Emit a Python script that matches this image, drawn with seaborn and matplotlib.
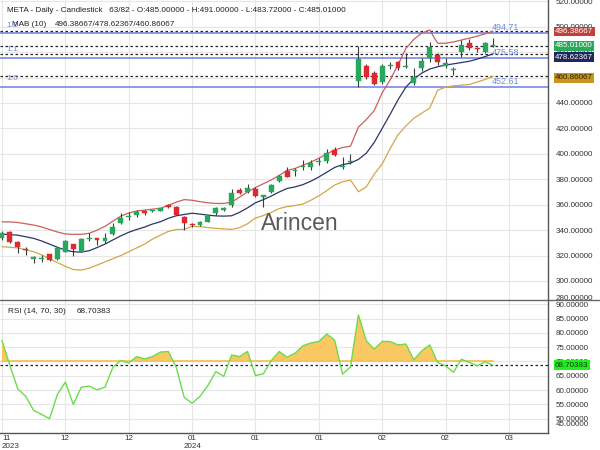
import numpy as np
import pandas as pd
import matplotlib
matplotlib.use('Agg')
import matplotlib.pyplot as plt
import seaborn as sns
from matplotlib.lines import Line2D
import matplotlib.transforms as mtransforms

# ---------------- data ----------------
opens = [333.5, 338.8, 330.9, 324.8, 317.0, 317.5, 321.0, 317.0, 323.0, 328.8,
         323.0, 333.2, 333.0, 331.5, 336.7, 345.3, 350.3, 352.0, 355.0, 355.0,
         355.3, 359.8, 358.4, 350.6, 344.2, 344.0, 346.7, 353.7, 356.2, 359.8,
         371.6, 369.7, 372.4, 365.8, 370.3, 378.5, 386.7, 386.2, 389.8, 390.0,
         393.6, 394.6, 403.2, 389.6, 393.5, 457.0, 469.1, 463.9, 456.8, 469.2,
         472.5, 468.5, 456.0, 467.3, 475.1, 477.7, 469.4, 465.8, 480.4, 487.5,
         482.8, 480.4, 485.0]
highs = [339.0, 339.5, 331.7, 326.5, 319.5, 320.4, 321.5, 326.5, 332.5, 329.2,
         333.5, 337.5, 333.5, 337.5, 345.3, 353.2, 354.5, 355.5, 356.0, 356.0,
         357.8, 360.3, 359.0, 351.0, 345.5, 347.2, 351.5, 358.5, 358.5, 372.0,
         373.0, 376.0, 374.2, 368.0, 376.0, 383.5, 389.5, 388.5, 395.2, 395.2,
         396.5, 403.5, 405.5, 397.3, 399.6, 484.8, 471.0, 465.0, 470.5, 472.0,
         473.2, 479.0, 467.3, 475.0, 488.2, 479.0, 475.2, 468.6, 489.5, 490.0,
         484.3, 488.0, 491.0]
lows = [332.0, 329.5, 321.7, 320.5, 313.9, 315.2, 316.0, 316.5, 322.5, 319.6,
        322.5, 331.4, 328.3, 330.0, 336.0, 344.8, 348.0, 350.5, 352.0, 354.0,
        354.8, 357.4, 352.0, 340.1, 342.8, 343.5, 346.2, 352.0, 355.0, 358.5,
        368.5, 369.0, 366.0, 358.5, 369.5, 377.5, 381.8, 382.5, 387.3, 387.3,
        391.2, 392.5, 398.5, 387.8, 392.0, 452.8, 458.5, 454.0, 455.0, 467.0,
        466.2, 467.3, 454.2, 465.5, 472.5, 470.0, 467.3, 462.0, 476.5, 481.7,
        480.4, 479.5, 483.72]
closes = [338.0, 331.0, 327.0, 324.0, 319.0, 318.0, 316.5, 325.7, 331.7, 324.9,
          333.0, 333.8, 332.6, 333.6, 342.7, 349.3, 350.6, 354.0, 353.2, 355.3,
          357.2, 357.9, 352.2, 345.9, 344.0, 346.7, 351.1, 357.2, 356.6, 369.5,
          369.5, 373.4, 366.9, 367.6, 375.3, 382.8, 382.0, 386.6, 390.2, 393.0,
          394.0, 400.4, 399.4, 390.2, 394.0, 474.3, 460.2, 455.0, 469.1, 469.6,
          467.3, 468.8, 460.2, 473.0, 484.3, 472.5, 471.7, 466.2, 485.6, 483.0,
          482.2, 486.9, 485.01]

upper_band = [346.5, 346.5, 346.0, 345.0, 344.0, 342.5, 340.5, 338.5, 337.0, 336.7,
              336.7, 337.5, 340.0, 343.0, 347.0, 351.0, 353.5, 355.0, 355.8, 356.5,
              357.2, 359.5, 362.0, 364.0, 363.5, 362.4, 361.5, 361.0, 361.0, 362.0,
              366.0, 370.0, 373.5, 376.5, 379.5, 383.0, 387.0, 388.5, 391.0, 393.5,
              396.5, 400.0, 403.0, 405.0, 406.0, 421.0, 427.0, 434.0, 448.0, 458.0,
              470.0, 483.0, 490.0, 495.0, 497.4, 487.0, 487.0, 488.0, 489.5, 491.0,
              492.5, 494.5, 496.38667]
mid_band = [336.8, 336.5, 336.0, 334.8, 333.5, 331.5, 329.0, 326.5, 324.3, 323.0,
            322.7, 323.8, 326.3, 329.0, 332.3, 335.5, 338.3, 340.5, 342.4, 344.8,
            346.6, 349.3, 351.3, 352.3, 353.3, 352.6, 351.8, 351.2, 351.0, 351.3,
            354.0, 357.5, 361.5, 364.0, 366.8, 370.0, 372.8, 374.0, 375.8, 378.5,
            381.8, 385.5, 389.3, 391.5, 392.7, 395.6, 400.5, 409.0, 420.0, 431.0,
            442.5, 452.5, 459.0, 463.5, 466.7, 468.5, 469.8, 470.8, 471.8, 472.8,
            474.5, 476.5, 478.62367]
lower_band = [327.0, 326.5, 326.0, 324.5, 323.0, 320.5, 317.5, 314.5, 311.5, 309.0,
              308.6, 310.0, 312.5, 315.0, 317.5, 320.0, 323.0, 326.0, 329.0, 333.0,
              336.0, 339.0, 340.5, 340.6, 343.0, 342.7, 342.0, 341.4, 341.0, 340.6,
              342.0, 345.0, 349.5, 351.5, 354.0, 357.0, 358.5, 359.3, 360.5, 363.5,
              367.0, 371.0, 375.5, 378.0, 379.4, 370.2, 374.0, 384.0, 392.0, 404.0,
              415.0, 422.0, 428.0, 432.0, 436.0, 450.0, 452.5, 453.5, 454.0, 454.5,
              456.5, 458.5, 460.86067]

rsi = [77.3, 68.6, 60.4, 57.8, 52.9, 51.5, 50.0, 58.5, 62.8, 55.0,
       61.0, 61.4, 60.1, 61.0, 68.0, 70.3, 69.5, 71.7, 70.9, 71.7,
       73.3, 73.5, 68.0, 57.5, 55.4, 57.8, 61.6, 66.5, 64.8, 72.3,
       71.7, 73.5, 65.1, 65.7, 70.3, 73.5, 71.5, 72.9, 75.5, 76.5,
       77.0, 79.6, 77.5, 65.6, 68.1, 86.3, 77.2, 74.3, 77.0, 77.0,
       75.8, 76.1, 70.6, 73.7, 75.8, 69.7, 68.5, 66.2, 70.8, 69.7,
       68.5, 69.9, 68.70383]

levels = [494.71, 475.58, 452.61]
level_names = ['1.2', '1.1', '1.0']
x_tick_pos = [0, 8, 16, 24, 32, 40, 48, 56, 64]
x_tick_labels = ['11\n2023', '12', '12', '01\n2024', '01', '01', '02', '02', '03']
price_ticks = [300, 320, 340, 360, 380, 400, 420, 440, 460, 480, 500, 520]
rsi_ticks = [50, 55, 60, 65, 70, 75, 80, 85, 90]

last_close = 485.01
rsi_last = 68.70383
band_last = [496.38667, 478.62367, 460.86067]

# ---------------- style ----------------
sns.set_theme(style='white')
plt.rcParams['font.family'] = ['Liberation Sans', 'DejaVu Sans']

UP = '#27a85c'
DOWN = '#e0282e'
WICK = '#3a3a3a'
C_UP_BAND = '#c9605c'
C_MID_BAND = '#2b3568'
C_LOW_BAND = '#d4a646'
C_LEVEL = '#6e7fe0'
C_LEVEL_TXT = '#6a8ae6'
GRID = '#e6e6e6'
SPINE = '#555555'
TXT = '#222222'
FS = 5.8

df = pd.DataFrame({'i': np.arange(len(closes)), 'o': opens, 'h': highs,
                   'l': lows, 'c': closes, 'up': upper_band, 'mid': mid_band,
                   'low': lower_band, 'rsi': rsi})

W, H = 600, 450
fig = plt.figure(figsize=(6, 4.5), dpi=100)
ax = fig.add_axes([0, 1 - 300 / H, 548 / W, 300 / H])
ax2 = fig.add_axes([0, 1 - 433 / H, 548 / W, 133 / H], sharex=ax)

xmin, xmax = -0.2525, 68.94
ax.set_xlim(xmin, xmax)
ax.set_ylim(285.05, 521.0)
ax2.set_ylim(45, 91.5)

for a in (ax, ax2):
    a.set_facecolor('white')
    a.grid(True, color=GRID, lw=0.8)
    a.set_axisbelow(True)
    for s in ('top', 'left'):
        a.spines[s].set_visible(False)
    a.spines['right'].set_color(SPINE)
    a.spines['right'].set_linewidth(1.0)
    a.yaxis.tick_right()
    a.tick_params(axis='y', length=0, pad=5.5, labelsize=FS, colors='#333333')
ax.spines['bottom'].set_visible(False)
ax2.spines['bottom'].set_color(SPINE)
ax2.spines['bottom'].set_linewidth(1.0)

ax.set_yticks(price_ticks)
ax.set_yticklabels([f'{v:.5f}' for v in price_ticks])
ax2.set_yticks(rsi_ticks)
ax2.set_yticklabels([f'{v:.5f}' for v in rsi_ticks])
ax2.set_xticks(x_tick_pos)
ax2.set_xticklabels(x_tick_labels)
ax2.tick_params(axis='x', length=0, pad=1.5, labelsize=FS, colors='#333333')
ax.tick_params(axis='x', bottom=False, labelbottom=False)
ax2.get_xticklabels()[0].set_horizontalalignment('left')
ax.set_xlabel(''); ax.set_ylabel(''); ax2.set_xlabel(''); ax2.set_ylabel('')

# ---------------- price panel ----------------
# levels
for lv, nm in zip(levels, level_names):
    ax.axhline(lv, color=C_LEVEL, lw=1.1, zorder=2)
    ax.text(0.5, lv + 6.3, nm, color=C_LEVEL_TXT, fontsize=FS + 0.3,
            ha='left', va='center', zorder=6)
    ax.text(61.9, lv + 4.4, f'{lv:.2f}', color=C_LEVEL_TXT, fontsize=FS + 0.6,
            ha='left', va='center', zorder=6)

# dashed current-value lines
for v in [band_last[0], last_close, band_last[1], band_last[2]]:
    ax.axhline(v, color='#222222', lw=0.9, ls=(0, (2, 2)), zorder=2)

# bands
sns.lineplot(data=df, x='i', y='up', ax=ax, color=C_UP_BAND, lw=0.9, zorder=3)
sns.lineplot(data=df, x='i', y='mid', ax=ax, color=C_MID_BAND, lw=0.9, zorder=3)
sns.lineplot(data=df, x='i', y='low', ax=ax, color=C_LOW_BAND, lw=0.9, zorder=3)

# candles
colors = [UP if c >= o else DOWN for o, c in zip(opens, closes)]
ax.vlines(df['i'], df['l'], df['h'], color=WICK, lw=0.8, zorder=4)
bottoms = np.minimum(df['o'], df['c'])
heights = np.maximum(np.abs(df['c'] - df['o']), 0.9)
ax.bar(df['i'], heights, bottom=bottoms, width=0.62, color=colors,
       edgecolor=colors, lw=0.3, zorder=5)
ax.set_xlim(xmin, xmax)
ax.set_ylim(285.05, 521.0)

# watermark
ax.text(300 / 548, 1 - 224 / 300, 'Arincen', transform=ax.transAxes,
        fontsize=16.5, color='#5a5a5a', ha='center', va='center', zorder=7)

# value boxes on right axis
bt = mtransforms.blended_transform_factory(ax.transAxes, ax.transData)
bx = 1 + 7 / 548
box_specs = [(band_last[0], 496.2, '#c0403c', 'white'),
             (last_close, 484.9, '#2aa95a', 'white'),
             (band_last[1], 476.0, '#1e285a', 'white'),
             (band_last[2], 459.9, '#c8961e', '#2a2000')]
for val, ypos, fc, tc in box_specs:
    ax.text(bx, ypos, f'{val:.5f}', transform=bt, fontsize=FS, color=tc,
            ha='left', va='center', clip_on=False, zorder=10,
            bbox=dict(boxstyle='square,pad=0.18', fc=fc, ec='none'))

# ---------------- RSI panel ----------------
ax2.fill_between(df['i'], df['rsi'], 70, where=df['rsi'] >= 70,
                 interpolate=True, color='#fac862', lw=0, zorder=2)
ax2.plot([0, len(rsi) - 1], [70, 70], color='#f6c25a', lw=1.3, zorder=2)
ax2.axhline(rsi_last, color='#222222', lw=0.9, ls=(0, (2, 2)), zorder=3)
sns.lineplot(data=df, x='i', y='rsi', ax=ax2, color='#6cdc4c', lw=1.0, zorder=4)
ax2.set_xlim(xmin, xmax)
ax2.set_ylim(45, 91.5)
ax2.set_xlabel(''); ax2.set_ylabel('')
bt2 = mtransforms.blended_transform_factory(ax2.transAxes, ax2.transData)
ax2.text(bx, rsi_last, f'{rsi_last:.5f}', transform=bt2, fontsize=FS,
         color='#0a3d0a', ha='left', va='center', clip_on=False, zorder=10,
         bbox=dict(boxstyle='square,pad=0.18', fc='#22ee22', ec='none'))

# clamped edge labels
fig.text(556 / W, 1 - 298 / H, '280.00000', fontsize=FS, color='#333333',
         ha='left', va='center')
fig.text(556 / W, 1 - 424 / H, '45.00000', fontsize=FS, color='#333333',
         ha='left', va='center')

# separator between panels
fig.add_artist(Line2D([0, 1], [1 - 300 / H, 1 - 300 / H], color='#666666',
                      lw=1.0, transform=fig.transFigure))

# headers
fig.text(7 / W, 1 - 10 / H,
         'META - Daily - Candlestick   63/82 - O:485.00000 - H:491.00000 - '
         'L:483.72000 - C:485.01000', fontsize=FS + 0.1, color=TXT,
         ha='left', va='center')
fig.text(12 / W, 1 - 25 / H, 'MAB (10)', fontsize=FS + 0.1, color=TXT,
         ha='left', va='center')
fig.text(55 / W, 1 - 25 / H, '496.38667/478.62367/460.86067', fontsize=FS + 0.1,
         color=TXT, ha='left', va='center')
fig.text(8 / W, 1 - 311.5 / H, 'RSI (14, 70, 30)', fontsize=FS + 0.1, color=TXT,
         ha='left', va='center')
fig.text(77 / W, 1 - 311.5 / H, '68.70383', fontsize=FS + 0.1, color=TXT,
         ha='left', va='center')

fig.savefig('out.png', dpi=100)
